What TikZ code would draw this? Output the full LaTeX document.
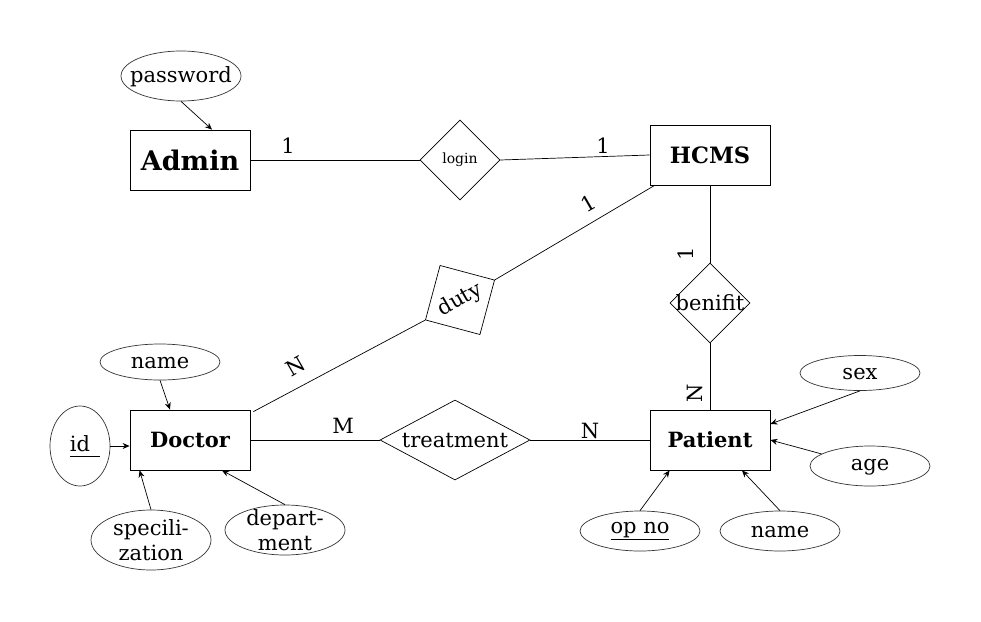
\documentclass[tikz,border=0pt]{standalone}
\usepackage{fontspec}
\setmainfont{DejaVu Serif}
\usetikzlibrary{shapes.geometric,arrows.meta,calc}
\begin{document}
\begin{tikzpicture}[x=1pt,y=-1pt,
  every node/.style={font=\fontsize{21}{25}\selectfont},
  entity/.style={draw, line width=0.8pt, rectangle, minimum width=120pt, minimum height=60pt, inner sep=0pt},
  attr/.style={draw=black!80, line width=0.7pt, ellipse, minimum width=120pt, minimum height=#1, inner sep=0pt},
  rel/.style={draw, line width=0.7pt, diamond, minimum width=80pt, minimum height=80pt, inner sep=0pt},
  link/.style={line width=0.7pt},
  arr/.style={line width=0.7pt, -{Stealth[length=7pt,width=6pt]}},
  card/.style={inner sep=0pt}
]
\useasboundingbox (0,0) rectangle (981,621);

% entities
\node[entity, font=\fontsize{27}{31}\selectfont\bfseries] (admin) at (190,160) {Admin};
\node[entity, font=\fontsize{22.5}{26}\selectfont\bfseries] (hcms) at (710,155) {HCMS};
\node[entity, font=\fontsize{21}{25}\selectfont\bfseries] (doctor) at (190,440) {Doctor};
\node[entity, font=\fontsize{21}{25}\selectfont\bfseries] (patient) at (710,440) {Patient};

% relationships
\node[rel, font=\fontsize{14}{16}\selectfont] (login) at (460,160) {\makebox[0pt]{login}};
\node[rel, rotate=30] (duty) at (460,300) {\makebox[0pt]{duty}};
\node[rel] (benifit) at (710,303) {\makebox[0pt]{benifit}};
\node[rel, minimum width=150pt, aspect=1.875] (treat) at (455,440) {\makebox[0pt]{treatment}};

% attributes
\node[attr=50pt, label={[yshift=-1pt]center:password}] (pw) at (181,76) {};
\node[attr=36pt, label={[yshift=-1pt]center:name}] (dname) at (160,362) {};
\node[attr=80pt, minimum width=60pt, label={center:\rlap{\rule[-5pt]{30pt}{0.6pt}}id}] (id) at (80,446) {};
\node[attr=60pt, label={[align=center]center:specili-\\zation}] (spec) at (151,540) {};
\node[attr=50pt, label={[align=center]center:depart-\\ment}] (dept) at (285,530) {};
\node[attr=35pt, label={[yshift=-1pt]center:sex}] (sex) at (860,373) {};
\node[attr=40pt, label={[yshift=-1pt]center:age}] (age) at (870,466) {};
\node[attr=40pt, label=center:\underline{op no}] (opno) at (640,531) {};
\node[attr=40pt, label={[yshift=-1pt]center:name}] (pname) at (780,531) {};

% relationship links
\draw[link] (admin.east) -- (login.west);
\draw[link] (login.east) -- (hcms.west);
\draw[link] (duty.east) -- ($(hcms.south west)+(5,0)$);
\draw[link] (duty.west) -- ($(doctor.north east)+(3,2)$);
\draw[link] (hcms.south) -- (benifit.north);
\draw[link] (benifit.south) -- (patient.north);
\draw[link] (doctor.east) -- (treat.west);
\draw[link] (treat.east) -- (patient.west);

% attribute arrows
\draw[arr] (pw.south) -- ($(admin.north)+(22,0)$);
\draw[arr] (dname.south) -- ($(doctor.north)+(-20,0)$);
\draw[arr] (id.east) -- (doctor.west |- id.east);
\draw[arr] (spec.north) -- ($(doctor.south west)+(10,0)$);
\draw[arr] (dept.north) -- ($(doctor.south)+(32,0)$);
\draw[arr] (sex.south) -- ($(patient.east)+(0,-16)$);
\draw[arr] (age.166) -- (patient.east);
\draw[arr] (opno.north) -- ($(patient.south west)+(20,0)$);
\draw[arr] (pname.north) -- ($(patient.south)+(32,0)$);

% cardinalities
\node[card] (c1) at (288,146) {1};
\node[card] (c2) at (603,146) {1};
\node[card, rotate=30] (c3) at (588,203) {1};
\node[card, rotate=90] (c4) at (686,254) {1};
\node[card, rotate=90] (c5) at (695,393) {N};
\node[card, rotate=30] (c6) at (296,366) {N};
\node[card] (c7) at (343,426) {M};
\node[card] (c8) at (590,431) {N};
\end{tikzpicture}
\end{document}
